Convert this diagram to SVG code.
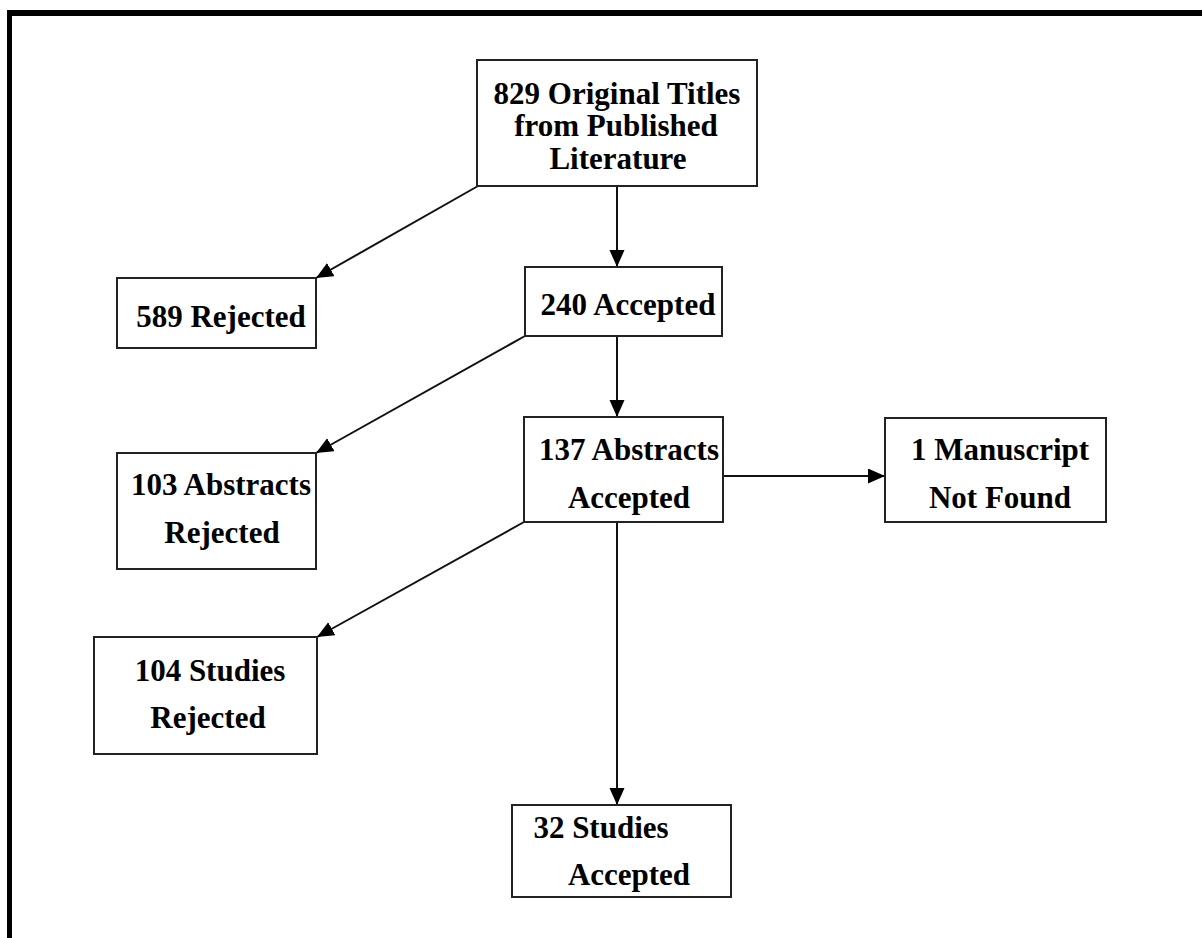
<svg xmlns="http://www.w3.org/2000/svg" width="1202" height="938" viewBox="0 0 1202 938">
<style>
.box{fill:#fff;stroke:#222;stroke-width:2}
.t{font-family:"Liberation Serif","Times New Roman",serif;font-weight:bold;font-size:31px;fill:#000;text-anchor:middle}
.c{stroke:#111;stroke-width:2;fill:none;marker-end:url(#ah)}
</style>
<defs>
<marker id="ah" markerUnits="userSpaceOnUse" markerWidth="20" markerHeight="16" refX="17" refY="7.5" orient="auto">
<path d="M0,0 L17,7.5 L0,15 Z" fill="#000"/>
</marker>
</defs>
<rect x="0" y="0" width="1202" height="938" fill="#fff"/>
<g id="frame">
<rect x="7" y="10" width="1195" height="6" fill="#000"/>
<rect x="7" y="10" width="5" height="928" fill="#000"/>
</g>
<g id="connectors">
<line class="c" x1="478" y1="186" x2="316" y2="278"/>
<line class="c" x1="617" y1="186" x2="617" y2="267"/>
<line class="c" x1="525" y1="336" x2="316" y2="453"/>
<line class="c" x1="617" y1="336" x2="617" y2="417"/>
<line class="c" x1="723" y1="476" x2="885" y2="476"/>
<line class="c" x1="524" y1="522" x2="317" y2="637"/>
<line class="c" x1="617" y1="522" x2="617" y2="805"/>
</g>
<g id="n829">
<rect class="box" x="477" y="60" width="280" height="126"/>
<text class="t" x="617" y="104">829 Original Titles</text>
<text class="t" x="616" y="136">from Published</text>
<text class="t" x="618" y="169">Literature</text>
</g>
<g id="n589">
<rect class="box" x="117" y="278" width="199" height="70"/>
<text class="t" x="221" y="327">589 Rejected</text>
</g>
<g id="n240">
<rect class="box" x="525" y="267" width="197" height="69"/>
<text class="t" x="628" y="315">240 Accepted</text>
</g>
<g id="n137">
<rect class="box" x="524" y="417" width="199" height="105"/>
<text class="t" x="629" y="460">137 Abstracts</text>
<text class="t" x="629" y="508">Accepted</text>
</g>
<g id="n1">
<rect class="box" x="885" y="418" width="221" height="104"/>
<text class="t" x="1000" y="460">1 Manuscript</text>
<text class="t" x="1000" y="508">Not Found</text>
</g>
<g id="n103">
<rect class="box" x="117" y="453" width="199" height="116"/>
<text class="t" x="221" y="495">103 Abstracts</text>
<text class="t" x="222" y="543">Rejected</text>
</g>
<g id="n104">
<rect class="box" x="94" y="637" width="223" height="117"/>
<text class="t" x="210" y="681">104 Studies</text>
<text class="t" x="208" y="728">Rejected</text>
</g>
<g id="n32">
<rect class="box" x="512" y="805" width="219" height="92"/>
<text class="t" x="601" y="838">32 Studies</text>
<text class="t" x="629" y="885">Accepted</text>
</g>
</svg>
